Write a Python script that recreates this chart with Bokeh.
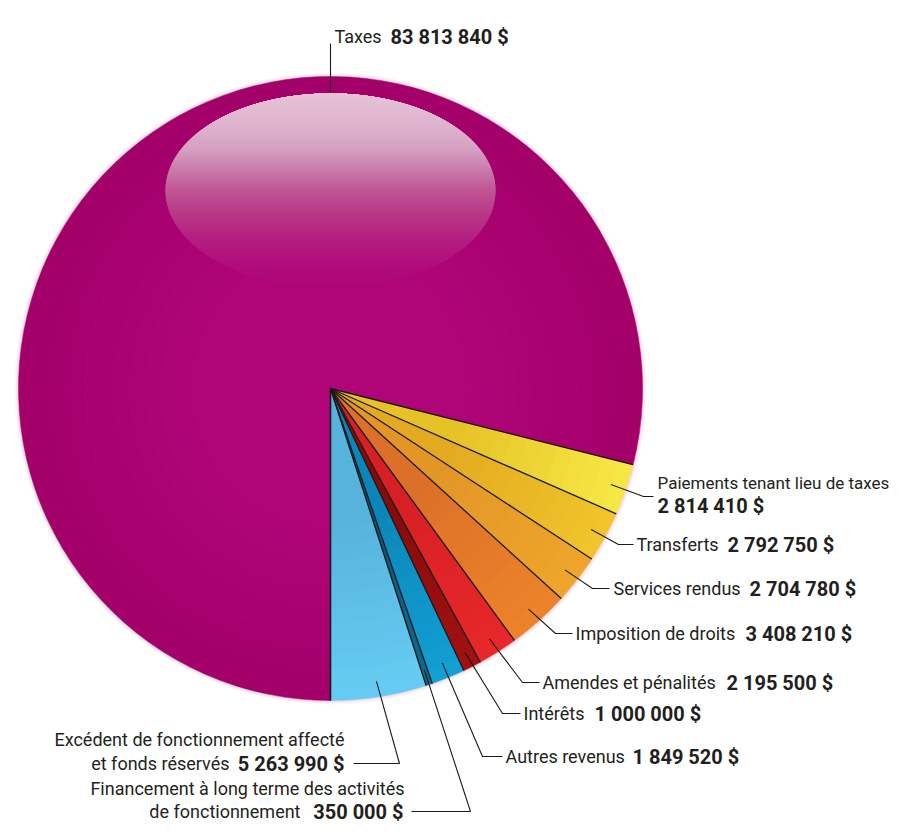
import math
from bokeh.plotting import figure
from bokeh.models import Range1d, ColumnDataSource
from bokeh.core.properties import value
from bokeh.embed import file_html
from bokeh.resources import INLINE

# ---------------- data ----------------
categories = [
    "Excédent de fonctionnement affecté et fonds réservés",
    "Financement à long terme des activités de fonctionnement",
    "Autres revenus",
    "Intérêts",
    "Amendes et pénalités",
    "Imposition de droits",
    "Services rendus",
    "Transferts",
    "Paiements tenant lieu de taxes",
    "Taxes",
]
amounts = [5263990, 350000, 1849520, 1000000, 2195500, 3408210,
           2704780, 2792750, 2814410, 83813840]
label_lines = [
    ["Excédent de fonctionnement affecté", "et fonds réservés"],
    ["Financement à long terme des activités", "de fonctionnement"],
    ["Autres revenus"],
    ["Intérêts"],
    ["Amendes et pénalités"],
    ["Imposition de droits"],
    ["Services rendus"],
    ["Transferts"],
    ["Paiements tenant lieu de taxes"],
    ["Taxes"],
]
value_labels = [f"{v:,}".replace(",", " ") + " $" for v in amounts]

# ---------------- styles ----------------
inner_colors = ["#56B0DA", "#0A5676", "#0C84B6", "#860A0B", "#D51F24",
                "#DB6E28", "#E29426", "#E2A820", "#E6BE24", "#B0057A"]
rim_colors = ["#66CBF2", "#10698F", "#129FD3", "#A01210", "#E7282A",
              "#EC822A", "#EEA52A", "#F0C42A", "#F6E844", "#A3006A"]
FONT = "Roboto"
FS = "18px"
FS_BOLD = "20px"
TXT = "#231F20"

W, H = 894, 822
def Y(y):            # picture pixels (y down) -> data units (y up)
    return H - y

CX, CY, R = 330, Y(388), 312

# per category: regular text anchors, bold anchor, leader elbow and end
layout = [
    dict(reg=[(344, 739, "right"), (229, 763, "right")], bold=(344, 763, "right"),
         elbow=(399, 763), end=(353, 763)),
    dict(reg=[(404, 788, "right"), (300, 811, "right")], bold=(403, 811, "right"),
         elbow=(470, 811), end=(411, 811)),
    dict(reg=[(505, 756, "left")], bold=(632, 756, "left"), elbow=(482, 756), end=(502, 756)),
    dict(reg=[(523, 713, "left")], bold=(594, 713, "left"), elbow=(502, 713), end=(520, 713)),
    dict(reg=[(542, 682, "left")], bold=(726, 682, "left"), elbow=(522, 682), end=(539, 682)),
    dict(reg=[(575, 633, "left")], bold=(745, 633, "left"), elbow=(555, 633), end=(572, 633)),
    dict(reg=[(613, 588, "left")], bold=(749, 588, "left"), elbow=(592, 588), end=(609, 588)),
    dict(reg=[(636, 544, "left")], bold=(727, 544, "left"), elbow=(618, 544), end=(633, 544)),
    dict(reg=[(657, 482, "left")], bold=(657, 505, "left"), elbow=(643, 496), end=(653, 496),
         size="17px"),
    dict(reg=[(334, 36, "left")], bold=(390, 36, "left"), elbow=(330, 43), end=(330, 43),
         angle=math.pi / 2),
]

# ---------------- figure ----------------
p = figure(width=W, height=H, output_backend="svg", toolbar_location=None,
           x_range=Range1d(0, W), y_range=Range1d(0, H),
           min_border=0, background_fill_color="white", border_fill_color="white")
p.axis.visible = False
p.grid.visible = False
p.outline_line_color = None

total = float(sum(amounts))
starts, ends = [], []
a = -math.pi / 2
for v in amounts:
    starts.append(a)
    a += 2 * math.pi * v / total
    ends.append(a)

def mix(c1, c2, t):
    c1 = [int(c1[i:i + 2], 16) for i in (1, 3, 5)]
    c2 = [int(c2[i:i + 2], 16) for i in (1, 3, 5)]
    return "#%02x%02x%02x" % tuple(round(c1[k] + (c2[k] - c1[k]) * t) for k in range(3))

# soft halo around the sphere
for k, al in ((4, 0.05), (2.5, 0.08), (1.2, 0.12)):
    p.circle(x=CX, y=CY, radius=R + k, fill_color="#C0508F", fill_alpha=al, line_color=None)

# radial shading: paint from the rim inward
STEPS = 12
for s in range(STEPS):
    t = 1 - s / STEPS
    rad = R * (0.4 + 0.6 * t)
    cols = [mix(inner_colors[i], rim_colors[i], t) for i in range(len(amounts))]
    src = ColumnDataSource(dict(start=starts, end=ends, color=cols))
    p.wedge(x=CX, y=CY, radius=rad, start_angle="start", end_angle="end",
            fill_color="color", line_color="color", line_width=0.5, source=src)

# glossy highlight: vertical gradient clipped to an ellipse
GX, GY, GA, GB = 330, 190, 165, 97
stops = [(93, "#E6C3D8"), (130, "#DDB0CB"), (150, "#D49FC1"), (170, "#C97BAB"),
         (190, "#C05595"), (213, "#B93887"), (240, "#B41D7F"), (265, "#B10C7B"),
         (287, "#AE0677")]
def grad(y):
    for (y0, c0), (y1, c1) in zip(stops[:-1], stops[1:]):
        if y0 <= y <= y1:
            return mix(c0, c1, (y - y0) / (y1 - y0))
    return stops[-1][1]
ql, qr, qt, qb, qc = [], [], [], [], []
y = GY - GB
while y < GY + GB:
    yc = y + 0.5
    dy = (yc - GY) / GB
    hw = GA * math.sqrt(max(0.0, 1 - dy * dy))
    ql.append(GX - hw); qr.append(GX + hw)
    qt.append(Y(y) + 0.4); qb.append(Y(y + 1) - 0.4)
    qc.append(grad(yc))
    y += 1
p.quad(left=ql, right=qr, top=qt, bottom=qb, fill_color=qc, line_color=None)

# slice boundary lines
bx, by = [], []
for ang in starts + [ends[-1]]:
    bx.append([CX, CX + R * math.cos(ang)])
    by.append([CY, CY + R * math.sin(ang)])
p.multi_line(bx, by, line_color="#1a1a1a", line_width=1.3)

# leader lines
lx, ly = [], []
for i, lay in enumerate(layout):
    ang = lay.get("angle", (starts[i] + ends[i]) / 2)
    ix = CX + 0.95 * R * math.cos(ang)
    iy = CY + 0.95 * R * math.sin(ang)
    lx.append([ix, lay["elbow"][0], lay["end"][0]])
    ly.append([iy, Y(lay["elbow"][1]), Y(lay["end"][1])])
p.multi_line(lx, ly, line_color="#1a1a1a", line_width=1.1)

# texts
for i, lay in enumerate(layout):
    size = lay.get("size", FS)
    for (x, y, al), line in zip(lay["reg"], label_lines[i]):
        p.text(x=[x], y=[Y(y)], text=[line], text_align=al, text_baseline="middle",
               text_font=value(FONT), text_font_size=size, text_color=TXT)
    x, y, al = lay["bold"]
    p.text(x=[x], y=[Y(y)], text=[value_labels[i]], text_align=al, text_baseline="middle",
           text_font=value(FONT), text_font_size=FS_BOLD, text_font_style="bold",
           text_color=TXT)

open("out.html", "w").write(file_html(p, INLINE))
